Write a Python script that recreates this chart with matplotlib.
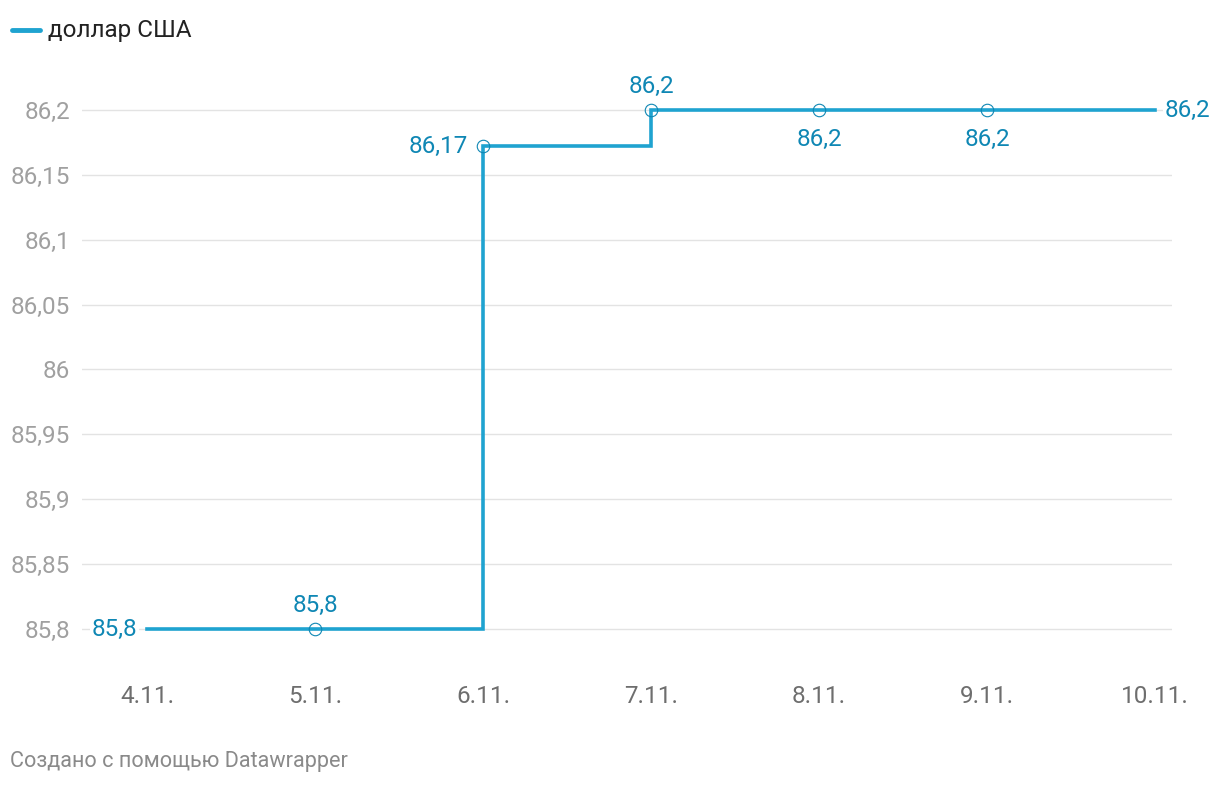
import matplotlib.pyplot as plt

plt.rcParams['font.family'] = ['Roboto', 'DejaVu Sans']

# Data
dates = ['4.11.', '5.11.', '6.11.', '7.11.', '8.11.', '9.11.', '10.11.']
usd = [85.8, 85.8, 86.172, 86.2, 86.2, 86.2, 86.2]
value_labels = ['85,8', '85,8', '86,17', '86,2', '86,2', '86,2', '86,2']
# where each label sits relative to its point
label_pos = ['left', 'above', 'left', 'above', 'below', 'below', 'right']
y_ticks = [85.8, 85.85, 85.9, 85.95, 86.0, 86.05, 86.1, 86.15, 86.2]
y_tick_labels = ['85,8', '85,85', '85,9', '85,95', '86', '86,05', '86,1', '86,15', '86,2']

line_color = '#1fa3d0'
label_color = '#0f87b4'

fig = plt.figure(figsize=(12.2, 7.86), dpi=100)
ax = fig.add_axes([82 / 1220, 1 - 670 / 786, 1090 / 1220, 610 / 786])

x = list(range(len(dates)))
ax.step(x, usd, where='post', color=line_color, lw=2.6, solid_joinstyle='miter', zorder=3)
# hollow markers on the inner points
ax.plot(x[1:-1], usd[1:-1], 'o', ms=9, mfc='none', mec=label_color, mew=0.8, zorder=4)

for i, (xi, yi, txt, pos) in enumerate(zip(x, usd, value_labels, label_pos)):
    box = dict(facecolor='white', edgecolor='none', pad=1)
    if pos == 'left':
        # labels next to a marker sit a bit further out
        dx = -7 if i == 0 else -11
        ax.annotate(txt, (xi, yi), xytext=(dx, 0), textcoords='offset points',
                    ha='right', va='center', fontsize=17.5, color=label_color, bbox=box, zorder=5)
    elif pos == 'right':
        ax.annotate(txt, (xi, yi), xytext=(7, 0), textcoords='offset points',
                    ha='left', va='center', fontsize=17.5, color=label_color, bbox=box, zorder=5)
    elif pos == 'above':
        ax.annotate(txt, (xi, yi), xytext=(0, 17), textcoords='offset points',
                    ha='center', va='center', fontsize=17.5, color=label_color, zorder=5)
    else:
        ax.annotate(txt, (xi, yi), xytext=(0, -21), textcoords='offset points',
                    ha='center', va='center', fontsize=17.5, color=label_color, zorder=5)

ax.set_xlim(-65 / 168, 6 + 17 / 168)
ax.set_ylim(85.8 - 41 / 1297.5, 86.2 + 50 / 1297.5)

ax.set_yticks(y_ticks)
ax.set_yticklabels(y_tick_labels)
ax.set_xticks(x)
ax.set_xticklabels(dates)
ax.grid(axis='y', color='#e3e3e3', lw=1)
ax.set_axisbelow(True)
ax.tick_params(axis='y', length=0, pad=8.5, labelsize=17.5, labelcolor='#a0a0a0')
ax.tick_params(axis='x', length=0, pad=11, labelsize=17.5, labelcolor='#6e6e6e')
for s in ax.spines.values():
    s.set_visible(False)

# legend
fig.lines.append(plt.Line2D([12 / 1220, 40 / 1220], [1 - 30 / 786] * 2,
                            transform=fig.transFigure, color=line_color, lw=3.5,
                            solid_capstyle='round'))
fig.text(48 / 1220, 1 - 30 / 786, 'доллар США', fontsize=17.5, color='#222222',
         ha='left', va='center')

fig.text(10 / 1220, 1 - 762 / 786, 'Создано с помощью Datawrapper', fontsize=15.6,
         color='#8a8a8a', ha='left', va='center')

fig.savefig('out.png', dpi=100)
